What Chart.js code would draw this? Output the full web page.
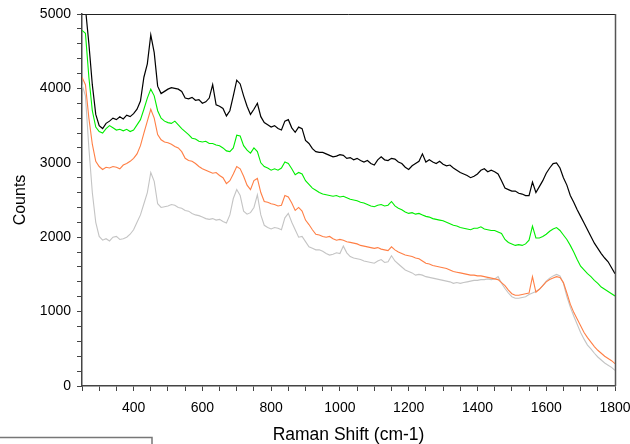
<!DOCTYPE html>
<html>
<head>
<meta charset="utf-8">
<script src="https://cdn.jsdelivr.net/npm/chart.js@4/dist/chart.umd.min.js"></script>
<style>
html,body{margin:0;padding:0;background:#fff;}
#wrap{width:630px;height:444px;position:relative;}
</style>
</head>
<body>
<div id="wrap"><canvas id="c" width="630" height="444"></canvas></div>
<script>
// Raman shift (cm-1) sample positions
const shifts = [
250,260,270,280,290,300,310,320,330,340,
350,360,370,380,390,400,410,420,430,440,
450,460,470,480,490,500,510,520,530,540,
550,560,570,580,590,600,610,620,630,640,
650,660,670,680,690,700,710,720,730,740,
750,760,770,780,790,800,810,820,830,840,
850,860,870,880,890,900,910,920,930,940,
950,960,970,980,990,1000,1010,1020,1030,1040,
1050,1060,1070,1080,1090,1100,1110,1120,1130,1140,
1150,1160,1170,1180,1190,1200,1210,1220,1230,1240,
1250,1260,1270,1280,1290,1300,1310,1320,1330,1340,
1350,1360,1370,1380,1390,1400,1410,1420,1430,1440,
1450,1460,1470,1480,1490,1500,1510,1520,1530,1540,
1550,1560,1570,1580,1590,1600,1610,1620,1630,1640,
1650,1660,1670,1680,1690,1700,1710,1720,1730,1740,
1750,1760,1770,1780,1790,1800];

const blackCounts = [
5600,5080,4600,4050,3650,3500,3460,3530,3560,3600,
3580,3620,3590,3640,3620,3660,3720,3830,4150,4330,
4720,4480,4030,3930,3960,3990,4010,4000,3990,3960,
3870,3860,3880,3840,3850,3800,3820,3870,4050,3780,
3760,3730,3630,3700,3900,4110,4060,3900,3760,3650,
3720,3800,3620,3540,3510,3480,3500,3460,3440,3560,
3580,3470,3410,3480,3460,3300,3260,3190,3150,3140,
3140,3120,3100,3080,3090,3110,3100,3060,3070,3040,
3060,3030,3010,3030,2990,2970,3040,3080,3040,3030,
3060,3050,3010,2990,2940,2910,2960,2990,3020,3120,
3010,3040,3010,2990,3020,2980,2960,2970,2930,2900,
2870,2850,2830,2800,2820,2850,2900,2920,2880,2900,
2880,2850,2760,2660,2640,2620,2620,2590,2580,2560,
2560,2740,2600,2680,2760,2860,2930,2990,3000,2930,
2800,2700,2560,2470,2370,2280,2190,2100,2010,1920,
1850,1780,1720,1670,1590,1510];

const greenCounts = [
4780,4740,4150,3700,3480,3420,3400,3460,3500,3470,
3440,3450,3430,3450,3420,3440,3510,3580,3720,3870,
3990,3900,3700,3600,3560,3540,3530,3560,3510,3460,
3420,3380,3330,3320,3290,3280,3290,3260,3260,3240,
3230,3200,3160,3150,3200,3370,3360,3230,3170,3130,
3200,3150,3000,2950,2930,2900,2920,2900,2930,3010,
2990,2920,2840,2870,2850,2760,2710,2660,2630,2600,
2580,2570,2560,2550,2560,2540,2550,2530,2510,2500,
2490,2470,2460,2440,2420,2410,2430,2440,2420,2430,
2480,2420,2390,2370,2340,2320,2330,2310,2320,2300,
2280,2270,2250,2240,2230,2220,2200,2180,2160,2150,
2130,2120,2110,2100,2120,2120,2140,2110,2100,2090,
2090,2070,2050,1970,1930,1910,1890,1900,1890,1910,
1960,2150,1990,1990,2010,2040,2080,2110,2130,2090,
2030,1970,1890,1800,1700,1610,1560,1510,1470,1420,
1380,1330,1300,1270,1240,1210];

const orangeCounts = [
4150,4050,3600,3250,3020,2950,2910,2940,2930,2950,
2940,2920,2970,2990,3020,3060,3120,3230,3400,3560,
3720,3600,3380,3310,3280,3270,3250,3220,3200,3150,
3060,3030,3020,2990,2950,2920,2900,2880,2860,2870,
2830,2800,2720,2760,2850,2950,2920,2820,2700,2640,
2760,2790,2600,2480,2470,2450,2440,2420,2430,2560,
2540,2460,2360,2400,2350,2230,2170,2100,2040,2030,
2010,2000,2010,1980,1960,1970,1960,1940,1930,1920,
1910,1890,1880,1870,1860,1850,1860,1840,1830,1820,
1870,1830,1800,1780,1760,1750,1740,1720,1710,1680,
1650,1640,1620,1610,1600,1590,1580,1560,1540,1530,
1520,1510,1500,1490,1490,1480,1480,1470,1460,1450,
1440,1430,1390,1350,1290,1240,1220,1220,1230,1240,
1250,1470,1260,1300,1350,1400,1430,1450,1470,1460,
1390,1250,1100,990,900,810,720,650,590,530,
480,440,400,370,340,300];

const greyCounts = [
4050,3900,3200,2600,2200,2010,1960,1980,1950,2000,
2010,1970,1980,2000,2040,2100,2200,2300,2450,2600,
2870,2750,2450,2400,2410,2420,2440,2430,2400,2390,
2360,2350,2320,2300,2290,2270,2250,2240,2250,2230,
2240,2210,2190,2300,2520,2640,2560,2350,2310,2330,
2400,2570,2300,2160,2130,2110,2130,2120,2100,2260,
2320,2200,2100,2000,2010,1940,1870,1850,1830,1830,
1810,1780,1760,1770,1790,1780,1880,1790,1740,1720,
1710,1700,1680,1670,1660,1650,1680,1700,1660,1670,
1750,1680,1640,1600,1560,1540,1520,1490,1500,1490,
1470,1460,1450,1440,1430,1420,1410,1400,1380,1390,
1380,1390,1400,1410,1420,1420,1430,1430,1440,1430,
1440,1470,1380,1310,1250,1200,1180,1180,1190,1200,
1230,1250,1270,1300,1350,1410,1450,1480,1500,1480,
1380,1200,1060,940,830,720,630,550,500,440,
390,350,310,280,250,210];

const xLabelValues = [400,600,800,1000,1200,1400,1600,1800];
const yLabelValues = [0,1000,2000,3000,4000,5000];

function pts(arr){ return shifts.map((x,i)=>({x:x,y:arr[i]})); }

const framePlugin = {
  id:'frame',
  afterDraw(chart){
    const {ctx, chartArea:a} = chart;
    ctx.save();
    ctx.strokeStyle = '#222';
    ctx.lineWidth = 1;
    ctx.beginPath();
    ctx.moveTo(a.left, a.top+0.5);
    ctx.lineTo(a.right+0.5, a.top+0.5);
    ctx.stroke();
    ctx.strokeStyle = '#555';
    ctx.lineWidth = 1.5;
    ctx.beginPath();
    ctx.moveTo(a.right+0.5, a.top);
    ctx.lineTo(a.right+0.5, a.bottom);
    ctx.stroke();
    // fragment of a legend box cropped at bottom-left
    ctx.strokeStyle = '#777';
    ctx.lineWidth = 1.5;
    ctx.beginPath();
    ctx.moveTo(0, 437.5);
    ctx.lineTo(152, 437.5);
    ctx.lineTo(152, 444);
    ctx.stroke();
    ctx.restore();
  }
};

const font = 'Liberation Sans, Arial, sans-serif';

new Chart(document.getElementById('c'), {
  type:'line',
  data:{
    datasets:[
      {label:'black', data:pts(blackCounts), borderColor:'#000000', borderWidth:1.2},
      {label:'green', data:pts(greenCounts), borderColor:'#00ee00', borderWidth:1.1},
      {label:'orange', data:pts(orangeCounts), borderColor:'#ff7f45', borderWidth:1.1},
      {label:'grey', data:pts(greyCounts), borderColor:'#c4c4c4', borderWidth:1.1}
    ]
  },
  options:{
    responsive:false,
    animation:false,
    events:[],
    elements:{point:{radius:0}, line:{tension:0}},
    layout:{padding:{left:0,right:15,top:14,bottom:0}},
    plugins:{legend:{display:false}, tooltip:{enabled:false}},
    scales:{
      x:{
        type:'linear', min:250, max:1800,
        afterFit(s){ s.height = 58; s.paddingLeft = 0; s.paddingRight = 0; },
        border:{display:true, color:'#444', width:1.5},
        grid:{display:true, drawOnChartArea:false, drawTicks:true, tickLength:5, color:'#444', tickColor:'#444'},
        ticks:{
          stepSize:50, autoSkip:false, maxRotation:0, padding:9,
          color:'#000', font:{family:font, size:14},
          callback:(v)=> xLabelValues.includes(v) ? String(v) : ''
        },
        title:{display:true, text:'Raman Shift (cm-1)', color:'#000', font:{family:font, size:17.5}, padding:{top:0,bottom:-2}}
      },
      y:{
        type:'linear', min:0, max:5000,
        afterFit(s){ s.width = 82; s.paddingTop = 0; s.paddingBottom = 0; },
        border:{display:true, color:'#444', width:1.5},
        grid:{display:true, drawOnChartArea:false, drawTicks:true, tickLength:5, color:'#444', tickColor:'#444'},
        ticks:{
          stepSize:200, autoSkip:false, padding:6,
          color:'#000', font:{family:font, size:14},
          callback:(v)=> yLabelValues.includes(v) ? String(v) : ''
        },
        title:{display:true, text:'Counts', color:'#000', font:{family:font, size:16}, padding:{top:11,bottom:0}}
      }
    }
  },
  plugins:[framePlugin]
});
</script>
</body>
</html>
